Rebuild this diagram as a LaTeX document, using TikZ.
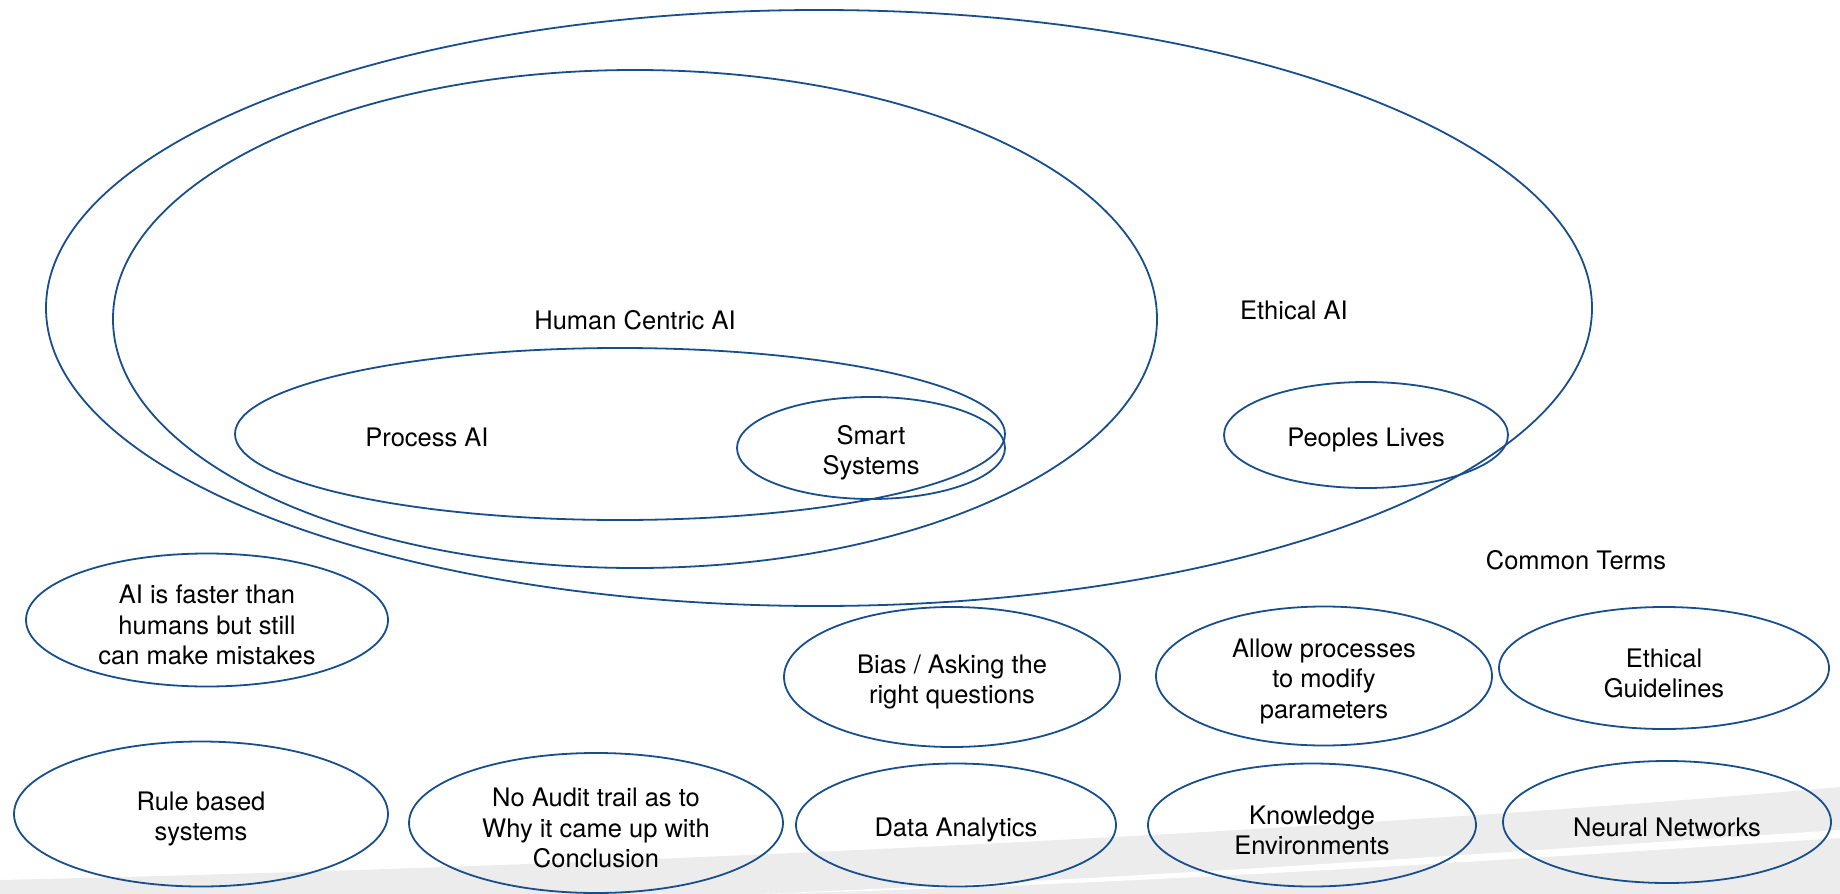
\documentclass[tikz,border=0pt]{standalone}
\usepackage{fontspec}
\setmainfont{TeX Gyre Heros}
\usepackage{tikz}
\usetikzlibrary{shapes.geometric}
\definecolor{ringblue}{RGB}{24,78,140}
\definecolor{swoosh}{RGB}{236,236,236}
\newcommand\lift{\rule{0pt}{29pt}}

\begin{document}
\begin{tikzpicture}[x=1pt, y=-1pt,
  every node/.style={font=\fontsize{25.5}{30.5}\selectfont, align=center},
  ring/.style={ellipse, draw=ringblue, line width=1.8pt, inner sep=0pt}]
\useasboundingbox (0,0) rectangle (1840,894);
% grey swoosh at the bottom
\fill[swoosh] (0,894) -- (0,880) .. controls (700,864) and (1400,826) .. (1840,787) -- (1840,894) -- cycle;
\fill[white] (760,894) .. controls (1150,878) and (1500,852) .. (1840,830) -- (1840,838) .. controls (1500,860) and (1150,884) .. (760,894) -- cycle;
% nested rings
\node [ring, minimum width=1546, minimum height=596] (ethical) at (819,308) {};
\node [ring, minimum width=1044, minimum height=498] (human) at (635,319) {};
\node [ring, minimum width=770, minimum height=172] (process) at (620,434) {};
\node [ring, minimum width=268, minimum height=102] (smart) at (871,448) {\lift Smart\\Systems};
\node [ring, minimum width=284, minimum height=106] (lives) at (1366,435) {\lift Peoples Lives};
\node (ethicallbl) at (1294,310) {Ethical AI};
\node (humanlbl) at (635,320) {Human Centric AI};
\node (processlbl) at (427,437) {Process AI};
% common terms
\node (commonlbl) at (1576,560) {Common Terms};
\node [ring, minimum width=362, minimum height=133] (faster) at (207,620) {\lift AI is faster than\\humans but still\\can make mistakes};
\node [ring, minimum width=336, minimum height=140] (bias) at (952,677) {\lift Bias / Asking the\\right questions};
\node [ring, minimum width=336, minimum height=139] (allow) at (1324,676) {\lift Allow processes\\to modify\\parameters};
\node [ring, minimum width=330, minimum height=122] (guide) at (1664,668) {\lift Ethical\\Guidelines};
\node [ring, minimum width=374, minimum height=145] (rule) at (201,814) {\lift Rule based\\systems};
\node [ring, minimum width=374, minimum height=140] (audit) at (596,823) {\lift No Audit trail as to\\Why it came up with\\Conclusion};
\node [ring, minimum width=320, minimum height=123] (data) at (956,825) {\lift Data Analytics};
\node [ring, minimum width=328, minimum height=123] (know) at (1312,825) {\lift Knowledge\\Environments};
\node [ring, minimum width=328, minimum height=122] (neural) at (1667,822) {\lift Neural Networks};
\end{tikzpicture}
\end{document}
